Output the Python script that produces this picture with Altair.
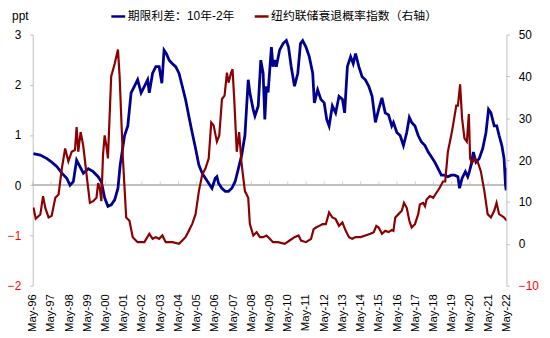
import altair as alt
import pandas as pd

# ---- data (decimal years, values) ----
blue_years = [1996.37, 1996.75, 1997.11, 1997.37, 1997.66, 1997.93, 1998.20, 1998.38, 1998.56, 1998.74,
              1999.11, 1999.38, 1999.65, 1999.92, 2000.10, 2000.28, 2000.46, 2000.64, 2000.83, 2001.01,
              2001.13, 2001.37, 2001.55, 2001.73, 2001.91, 2002.09, 2002.28, 2002.46, 2002.64, 2002.73,
              2002.91, 2003.09, 2003.27, 2003.42, 2003.54, 2003.67, 2003.82, 2004.00, 2004.18, 2004.36,
              2004.54, 2004.72, 2004.90, 2005.08, 2005.27, 2005.45, 2005.63, 2005.81, 2005.99, 2006.17,
              2006.35, 2006.44, 2006.53, 2006.71, 2006.90, 2007.08, 2007.26, 2007.44, 2007.62, 2007.80,
              2007.98, 2008.16, 2008.25, 2008.44, 2008.53, 2008.71, 2008.85, 2008.98, 2009.07, 2009.16,
              2009.25, 2009.43, 2009.52, 2009.61, 2009.70, 2009.88, 2010.07, 2010.25, 2010.37, 2010.52,
              2010.70, 2010.88, 2011.03, 2011.15, 2011.33, 2011.51, 2011.70, 2011.79, 2011.97, 2012.15,
              2012.33, 2012.47, 2012.60, 2012.78, 2012.96, 2013.14, 2013.33, 2013.45, 2013.60, 2013.78,
              2013.92, 2014.05, 2014.23, 2014.41, 2014.59, 2014.78, 2014.96, 2015.14, 2015.32, 2015.50,
              2015.68, 2015.86, 2016.04, 2016.13, 2016.32, 2016.50, 2016.68, 2016.86, 2017.00, 2017.13,
              2017.31, 2017.49, 2017.67, 2017.86, 2018.04, 2018.22, 2018.40, 2018.58, 2018.76, 2018.94,
              2019.12, 2019.30, 2019.49, 2019.67, 2019.76, 2019.90, 2020.08, 2020.21, 2020.30, 2020.39,
              2020.52, 2020.66, 2020.84, 2021.03, 2021.21, 2021.35, 2021.48, 2021.66, 2021.80, 2021.93,
              2022.08, 2022.20, 2022.28, 2022.32, 2022.36]
blue_values = [0.63, 0.60, 0.53, 0.46, 0.37, 0.24, 0.14, 0.00, 0.07, 0.50,
               0.24, 0.33, 0.27, 0.17, 0.07, -0.25, -0.42, -0.39, -0.29, -0.06,
               0.40, 0.99, 1.18, 1.84, 1.97, 2.10, 1.84, 1.97, 2.10, 1.84,
               2.23, 2.36, 2.36, 2.03, 2.69, 2.62, 2.49, 2.42, 2.36, 2.23,
               1.97, 1.71, 1.38, 1.05, 0.73, 0.40, 0.24, 0.14, 0.04, -0.06,
               0.14, 0.17, 0.04, -0.06, -0.12, -0.12, -0.06, 0.07, 0.33, 0.60,
               0.99, 2.10, 1.84, 1.50, 1.38, 1.58, 2.49, 2.23, 1.31, 1.97,
               1.85, 2.75, 2.36, 2.49, 2.36, 2.69, 2.82, 2.88, 2.75, 2.36,
               1.97, 2.23, 2.82, 2.88, 2.75, 2.56, 2.23, 1.64, 1.90, 1.71,
               1.64, 1.31, 1.18, 1.58, 1.44, 1.77, 1.71, 1.44, 2.36, 2.56,
               2.42, 2.62, 2.36, 2.16, 2.10, 1.97, 1.77, 1.25, 1.51, 1.74,
               1.44, 1.40, 1.18, 1.25, 1.05, 0.99, 0.79, 1.05, 1.35, 1.25,
               1.18, 0.99, 0.86, 0.79, 0.66, 0.56, 0.46, 0.33, 0.20, 0.20,
               0.17, 0.20, 0.20, 0.17, -0.06, 0.14, 0.27, 0.17, 0.27, 0.40,
               0.66, 0.46, 0.53, 0.73, 1.05, 1.51, 1.44, 1.18, 1.18, 0.99,
               0.79, 0.53, 0.00, -0.10, 0.35]

red_years = [1996.37, 1996.50, 1996.75, 1996.90, 1997.02, 1997.20, 1997.37, 1997.57, 1997.75, 1997.93,
             1998.11, 1998.29, 1998.47, 1998.65, 1998.74, 1998.83, 1998.96, 1999.10, 1999.29, 1999.47,
             1999.65, 1999.83, 1999.92, 2000.01, 2000.10, 2000.19, 2000.28, 2000.37, 2000.46, 2000.64,
             2000.83, 2001.01, 2001.10, 2001.28, 2001.46, 2001.64, 2001.82, 2002.09, 2002.46, 2002.73,
             2002.91, 2003.09, 2003.27, 2003.45, 2003.63, 2004.00, 2004.36, 2004.54, 2004.72, 2004.90,
             2005.08, 2005.27, 2005.45, 2005.63, 2005.81, 2005.99, 2006.13, 2006.26, 2006.44, 2006.57,
             2006.72, 2006.86, 2006.99, 2007.08, 2007.22, 2007.30, 2007.40, 2007.53, 2007.66, 2007.80,
             2007.98, 2008.16, 2008.25, 2008.44, 2008.62, 2008.80, 2008.98, 2009.16, 2009.34, 2009.52,
             2009.79, 2010.16, 2010.43, 2010.70, 2010.92, 2011.06, 2011.33, 2011.61, 2011.75, 2011.88,
             2012.06, 2012.24, 2012.42, 2012.60, 2012.78, 2012.96, 2013.14, 2013.33, 2013.51, 2013.69,
             2013.87, 2014.05, 2014.32, 2014.59, 2014.87, 2015.05, 2015.19, 2015.32, 2015.50, 2015.68,
             2015.86, 2016.04, 2016.13, 2016.23, 2016.41, 2016.59, 2016.71, 2016.86, 2017.00, 2017.13,
             2017.31, 2017.49, 2017.58, 2017.76, 2017.86, 2017.95, 2018.13, 2018.31, 2018.49, 2018.67,
             2018.85, 2018.97, 2019.12, 2019.30, 2019.40, 2019.58, 2019.67, 2019.79, 2019.90, 2020.03,
             2020.16, 2020.27, 2020.34, 2020.45, 2020.57, 2020.75, 2020.93, 2021.12, 2021.30, 2021.48,
             2021.66, 2021.79, 2021.93, 2022.08, 2022.20, 2022.36]
red_values = [8.7, 6.0, 7.0, 11.4, 8.6, 6.3, 6.7, 11.0, 11.8, 18.0,
              22.8, 19.7, 22.0, 22.4, 27.9, 22.0, 26.7, 23.6, 16.5, 9.8,
              10.2, 11.0, 14.5, 13.4, 10.2, 21.2, 25.9, 23.6, 20.4, 40.0,
              43.0, 46.4, 40.0, 20.4, 6.3, 5.5, 1.6, 0.4, 0.4, 2.4,
              1.2, 1.6, 1.2, 2.0, 0.4, 0.4, 0.0, 0.8, 1.6, 3.1,
              4.7, 7.1, 12.6, 16.5, 18.0, 20.4, 29.0, 28.3, 24.4, 25.9,
              34.6, 35.4, 40.9, 38.5, 40.9, 41.7, 33.8, 22.0, 26.7, 18.9,
              12.6, 11.0, 4.7, 2.0, 2.8, 1.6, 1.6, 2.0, 1.2, 0.4,
              0.4, 0.0, 0.8, 1.6, 2.0, 0.8, 0.4, 1.2, 3.5, 3.9,
              4.3, 4.7, 4.7, 7.5, 6.3, 5.9, 4.3, 5.1, 3.1, 1.6,
              1.2, 1.6, 1.6, 2.0, 2.4, 2.8, 4.3, 3.9, 2.4, 3.1,
              2.8, 3.3, 3.1, 6.3, 7.1, 7.9, 9.8, 8.6, 5.5, 3.9,
              4.7, 7.1, 9.4, 9.8, 9.0, 10.6, 11.4, 11.0, 12.2, 13.4,
              14.9, 14.9, 22.0, 25.9, 28.3, 33.0, 33.0, 38.1, 29.9, 25.2,
              24.4, 31.0, 20.4, 19.3, 20.4, 19.7, 17.3, 12.6, 7.1, 6.3,
              7.9, 9.8, 7.1, 6.7, 6.3, 5.5]

tick_years = list(range(1996, 2023))
left_ticks = [-2, -1, 0, 1, 2, 3]
right_ticks = [-10, 0, 10, 20, 30, 40, 50]
blue_name = "期限利差：10年-2年"
red_name = "纽约联储衰退概率指数（右轴）"

BLUE = "#000090"
RED = "#8B0000"
GRAY = "#BFBFBF"
FONT = "Liberation Sans, Arial, sans-serif"
CJK = "Liberation Sans, Noto Sans CJK SC, sans-serif"


def to_date(y):
    yr = int(y)
    d = pd.Timestamp(yr, 1, 1) + pd.Timedelta(days=(y - yr) * 365.25)
    return d.strftime("%Y-%m-%d")


blue_df = pd.DataFrame({"date": [to_date(y) for y in blue_years], "v": blue_values, "series": blue_name})
red_df = pd.DataFrame({"date": [to_date(y) for y in red_years], "v": red_values, "series": red_name})
tick_df = pd.DataFrame({"date": [f"{y}-05-01" for y in tick_years]})

x_scale = alt.Scale(domain=["1996-05-01", "2022-05-01"])
x_axis = alt.Axis(
    values=[alt.DateTime(year=y, month=5, date=1) for y in tick_years],
    format="%b-%y", labelAngle=-90, labelAlign="right", labelBaseline="middle",
    domain=False, ticks=False, grid=False, labelPadding=8,
    labelFont=FONT, labelFontSize=11.5, labelColor="black", title=None,
    labelOverlap=False, labelFlush=False, labelBound=False, tickCount=30,
)
color_scale = alt.Scale(domain=[blue_name, red_name], range=[BLUE, RED])
legend = alt.Legend(
    orient="none", legendX=78, legendY=-27, direction="horizontal", title=None,
    symbolType="stroke", symbolSize=196, symbolStrokeWidth=2.5, labelFont=CJK,
    labelFontSize=12, labelColor="black", columnPadding=14, labelOffset=1, padding=0,
    labelLimit=400,
)

left_scale = alt.Scale(domain=[-2, 3], nice=False, zero=False)
left_axis = alt.Axis(
    values=left_ticks, format="d", orient="left", grid=False,
    domainColor=GRAY, tickColor=GRAY, tickSize=3, labelPadding=9,
    labelFont=FONT, labelFontSize=12,
    labelColor={"expr": "datum.value < 0 ? '#FF0000' : '#000000'"},
    title="ppt", titleAngle=0, titleX=-13, titleY=-19, titleAlign="center",
    titleBaseline="middle", titleFont=FONT, titleFontSize=12, titleFontWeight="normal",
)
right_scale = alt.Scale(domain=[-10, 50], nice=False, zero=False)
right_axis = alt.Axis(
    values=right_ticks, format="d", orient="right", grid=False,
    domainColor=GRAY, tickColor=GRAY, tickSize=3, labelPadding=9,
    labelFont=FONT, labelFontSize=12,
    labelColor={"expr": "datum.value < 0 ? '#FF0000' : '#000000'"},
    title=None,
)

blue_line = alt.Chart(blue_df).mark_line(strokeWidth=2.8, clip=True).encode(
    x=alt.X("date:T", scale=x_scale, axis=x_axis),
    y=alt.Y("v:Q", scale=left_scale, axis=left_axis),
    color=alt.Color("series:N", scale=color_scale, legend=legend),
)
zero_rule = alt.Chart(tick_df).mark_rule(color=GRAY, strokeWidth=1).encode(
    y=alt.datum(0),
)
zero_ticks = alt.Chart(tick_df).mark_tick(color=GRAY, orient="vertical", size=4, thickness=1, yOffset=-2).encode(
    x=alt.X("date:T", scale=x_scale, axis=x_axis),
    y=alt.datum(0),
)
left = alt.layer(zero_rule, zero_ticks, blue_line)

red_line = alt.Chart(red_df).mark_line(strokeWidth=2.2, clip=True).encode(
    x=alt.X("date:T", scale=x_scale, axis=x_axis),
    y=alt.Y("v:Q", scale=right_scale, axis=right_axis),
    color=alt.Color("series:N", scale=color_scale, legend=legend),
)

chart = alt.layer(left, red_line).resolve_scale(y="independent").properties(
    width=479, height=254,
    autosize=alt.AutoSizeParams(type="none"),
    padding={"left": 25, "top": 25, "right": 36, "bottom": 47},
    background="white",
).configure_view(stroke=None)

chart.save("out.html", embed_options={"renderer": "svg", "actions": False})
